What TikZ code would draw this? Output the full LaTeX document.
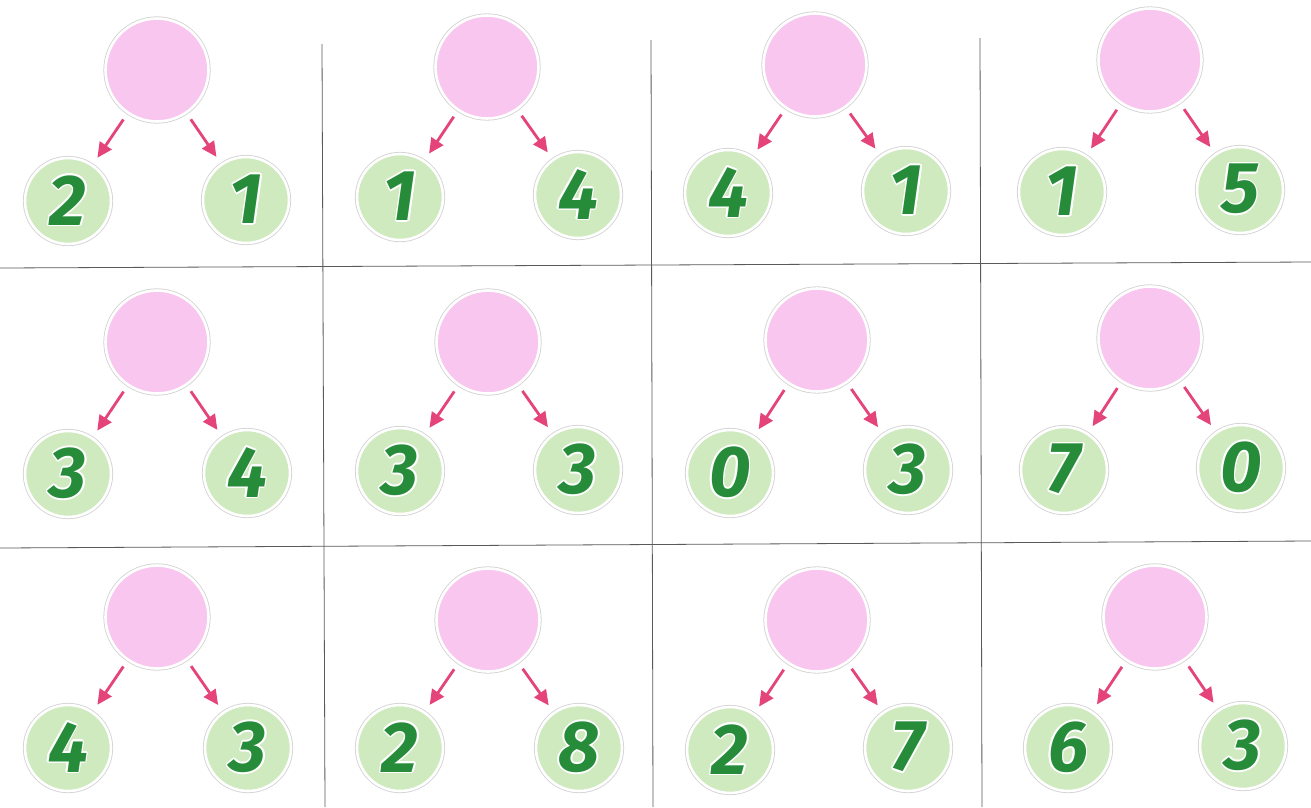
\documentclass[tikz,border=0pt]{standalone}
\usepackage{fontspec}
\setmainfont{Fira Sans}
\usepackage[copies]{contour}
\contourlength{1.6pt}
\contournumber{12}
\usetikzlibrary{arrows.meta}
\definecolor{pinkfill}{RGB}{249,198,239}
\definecolor{greenfill}{RGB}{208,234,192}
\definecolor{digitgreen}{RGB}{38,140,58}
\definecolor{arrowred}{RGB}{228,68,122}
\definecolor{gridgray}{RGB}{90,90,90}
\tikzset{
  ring/.style={circle, inner sep=0pt, draw=white, line width=2.6pt,
    preaction={draw=black!18, line width=4.2pt}},
  pinkball/.style={ring, fill=pinkfill, minimum size=103pt},
  greenball/.style={ring, fill=greenfill, minimum size=86pt,
    font=\fontsize{72}{72}\selectfont\bfseries\itshape, text=digitgreen},
  arr/.style={draw=arrowred, line width=2.8pt,
    -{Triangle[length=15pt,width=14pt]}, shorten <=7pt, shorten >=8pt},
  gridline/.style={draw=gridgray, line width=0.8pt}
}
\newcommand{\bondcell}[6]{%
  \node[pinkball] (#1p) at (#2) {};
  \node[greenball] (#1l) at (#3) {\contour{white}{#4}};
  \node[greenball] (#1r) at (#5) {\contour{white}{#6}};
  \draw[arr] (#1p) -- (#1l);
  \draw[arr] (#1p) -- (#1r);
}
\begin{document}
\begin{tikzpicture}[x=1pt,y=-1pt]
\useasboundingbox (0,0) rectangle (1311,807);
\fill[white] (0,0) rectangle (1311,807);
% grid lines
\coordinate (v1t) at (322,44); \coordinate (v1b) at (325,807);
\coordinate (v2t) at (651,40); \coordinate (v2b) at (653,807);
\coordinate (v3t) at (980,38); \coordinate (v3b) at (982,807);
\coordinate (h1l) at (0,268); \coordinate (h1r) at (1311,262);
\coordinate (h2l) at (0,548); \coordinate (h2r) at (1311,541);
\draw[gridline] (v1t) -- (v1b);
\draw[gridline] (v2t) -- (v2b);
\draw[gridline] (v3t) -- (v3b);
\draw[gridline] (h1l) -- (h1r);
\draw[gridline] (h2l) -- (h2r);
% row 1
\bondcell{a}{157,70}{68,201}{2}{246,200}{1}
\bondcell{b}{487,67}{400,197}{1}{578,195}{4}
\bondcell{c}{815,65}{728,193}{4}{906,191}{1}
\bondcell{d}{1150,60}{1062,192}{1}{1240,190}{5}
% row 2
\bondcell{e}{157,342}{68,474}{3}{247,473}{4}
\bondcell{f}{488,342}{400,471}{3}{578,470}{3}
\bondcell{g}{817,340}{730,473}{0}{908,470}{3}
\bondcell{h}{1150,338}{1064,470}{7}{1241,468}{0}
% row 3
\bondcell{i}{157,617}{68,748}{4}{248,748}{3}
\bondcell{j}{488,620}{400,748}{2}{579,748}{8}
\bondcell{k}{817,620}{730,750}{2}{908,748}{7}
\bondcell{l}{1155,617}{1068,748}{6}{1243,746}{3}
\end{tikzpicture}
\end{document}
